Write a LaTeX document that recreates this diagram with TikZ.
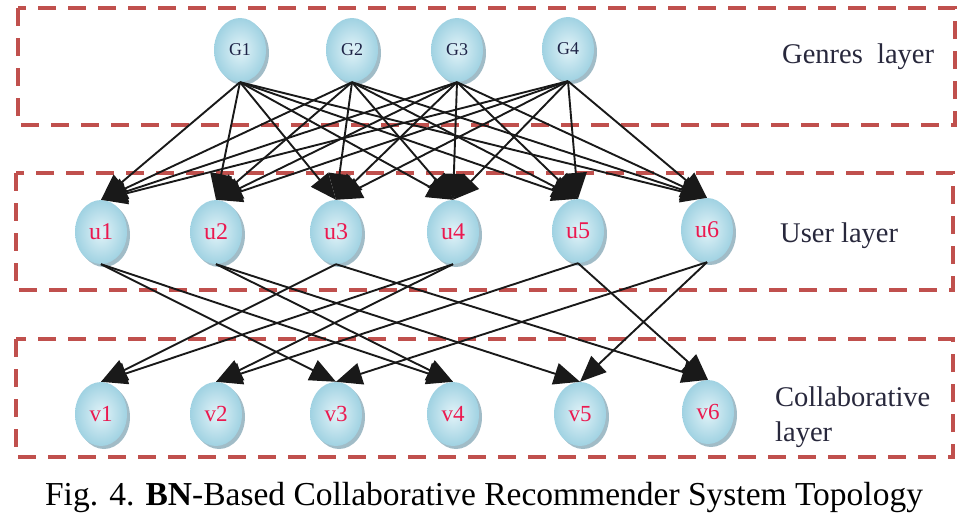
\documentclass[tikz,border=0pt]{standalone}
\usepackage{fontspec}
\setmainfont{Liberation Serif}
\usetikzlibrary{shapes.geometric,arrows.meta,shadows}
\definecolor{boxred}{RGB}{192,80,77}
\definecolor{ballin}{RGB}{226,243,248}
\definecolor{ballout}{RGB}{160,210,226}
\definecolor{ballshadow}{RGB}{130,165,180}
\definecolor{labred}{RGB}{235,25,80}
\definecolor{labnavy}{RGB}{30,35,70}
\definecolor{txt}{RGB}{40,40,60}
\tikzset{
  layerbox/.style={draw=boxred,line width=3.6pt,dash pattern=on 18pt off 12pt},
  ball/.style={ellipse,minimum width=52pt,minimum height=64pt,inner sep=0pt,
    shading=radial,inner color=ballin,outer color=ballout,
    drop shadow={shadow xshift=3pt,shadow yshift=-3pt,fill=ballshadow,opacity=0.75}},
  gball/.style={ball,text=labnavy,font=\fontsize{18}{18}\selectfont},
  uball/.style={ball,text=labred,font=\fontsize{24}{24}\selectfont},
  vball/.style={ball,text=labred,font=\fontsize{23}{23}\selectfont},
  arr/.style={draw=black!90,line width=1.9pt,-{Triangle[length=26pt,width=22pt]}},
  laylabel/.style={anchor=base west,text=txt,font=\fontsize{28.5}{35}\selectfont,inner sep=0pt},
}
\begin{document}
\begin{tikzpicture}[x=1pt,y=-1pt]
\useasboundingbox (0,0) rectangle (972,522);
\draw[layerbox] (18,8) rectangle (955,125);
\draw[layerbox] (16,173) rectangle (953,290);
\draw[layerbox] (16,339) rectangle (953,457);

\node[gball] (G1) at (240,50) {G1};
\node[gball] (G2) at (352,50) {G2};
\node[gball] (G3) at (457,50) {G3};
\node[gball] (G4) at (568,49) {G4};

\node[uball] (u1) at (101,232) {u1};
\node[uball] (u2) at (216,232) {u2};
\node[uball] (u3) at (336,232) {u3};
\node[uball] (u4) at (453,232) {u4};
\node[uball] (u5) at (578,231) {u5};
\node[uball] (u6) at (707,230) {u6};

\node[vball] (v1) at (101,414) {v1};
\node[vball] (v2) at (216,414) {v2};
\node[vball] (v3) at (336,414) {v3};
\node[vball] (v4) at (453,414) {v4};
\node[vball] (v5) at (580,414) {v5};
\node[vball] (v6) at (708,412) {v6};

\foreach \g in {1,...,4}
  \foreach \u in {1,...,6}
    \draw[arr] (G\g.south) -- (u\u.north);

\foreach \s/\t in {1/3,1/4,2/4,2/5,3/1,3/6,4/1,4/2,5/2,5/6,6/3,6/5}
  \draw[arr] (u\s.south) -- (v\t.north);

\node[laylabel] (lg) at (782,63) {Genres\ \ layer};
\node[laylabel] (lu) at (780,242) {User layer};
\node[laylabel,align=left,anchor=north west] (lc) at (775,387) {Collaborative\\layer};

\node[anchor=base,font=\fontsize{33.5}{33.5}\selectfont,inner sep=0pt] (cap) at (484,505)
  {Fig. 4. \textbf{BN}-Based Collaborative Recommender System Topology};
\end{tikzpicture}
\end{document}
